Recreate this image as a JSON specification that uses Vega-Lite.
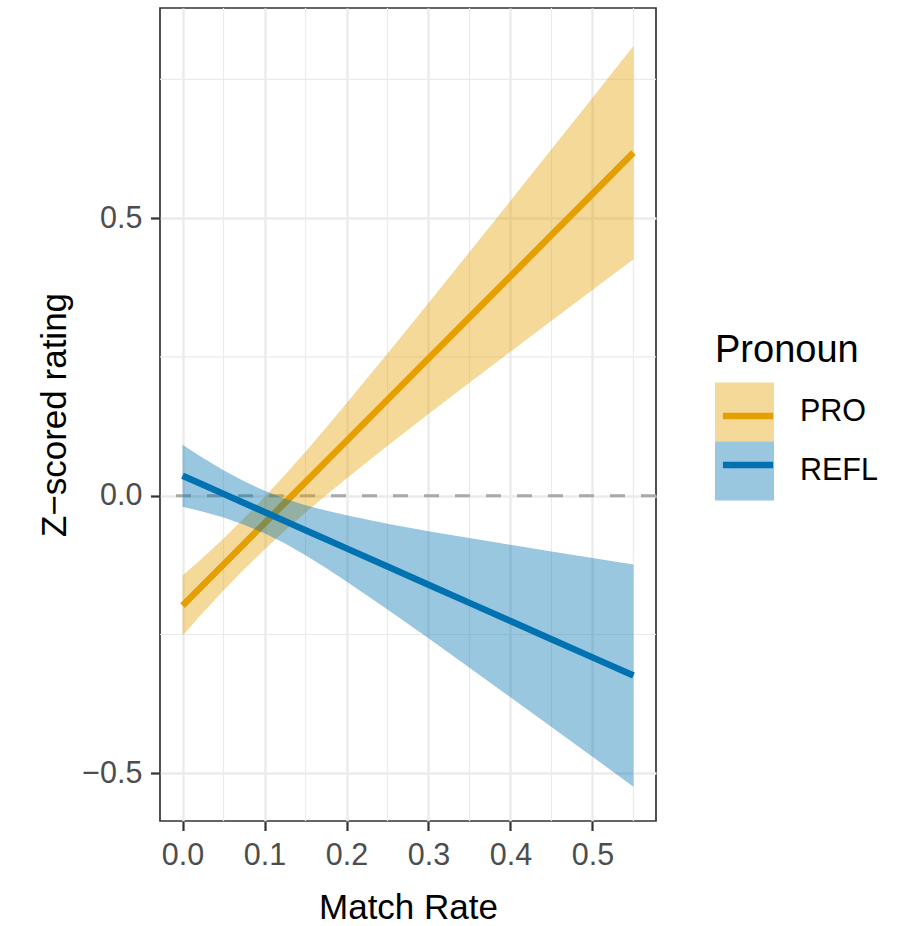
{
  "$schema": "https://vega.github.io/schema/vega-lite/v6.json",
  "width": 496,
  "height": 813,
  "autosize": {"type": "none"},
  "padding": {"left": 160, "top": 8, "right": 251, "bottom": 105},
  "background": "white",
  "config": {
    "font": "Liberation Sans",
    "view": {"stroke": "#333333", "strokeWidth": 1.7},
    "axis": {
      "labelFont": "Liberation Sans",
      "titleFont": "Liberation Sans",
      "labelFontSize": 30.5,
      "labelColor": "#4D4D4D",
      "titleFontSize": 35,
      "titleFontWeight": "normal",
      "titleColor": "#000000",
      "tickColor": "#333333",
      "tickSize": 9.5,
      "tickWidth": 2.2,
      "domain": false,
      "grid": true,
      "gridColor": "#EBEBEB",
      "gridWidth": 2.4
    },
    "legend": {
      "titleFont": "Liberation Sans",
      "labelFont": "Liberation Sans"
    }
  },
  "datasets": {
    "fits": [
      {"x": 0.000, "pronoun": "PRO", "fit": -0.1980, "lo": -0.2521, "hi": -0.1439},
      {"x": 0.025, "pronoun": "PRO", "fit": -0.1609, "lo": -0.2105, "hi": -0.1113},
      {"x": 0.050, "pronoun": "PRO", "fit": -0.1238, "lo": -0.1706, "hi": -0.0770},
      {"x": 0.075, "pronoun": "PRO", "fit": -0.0867, "lo": -0.1326, "hi": -0.0408},
      {"x": 0.100, "pronoun": "PRO", "fit": -0.0496, "lo": -0.0967, "hi": -0.0025},
      {"x": 0.125, "pronoun": "PRO", "fit": -0.0125, "lo": -0.0627, "hi": 0.0377},
      {"x": 0.150, "pronoun": "PRO", "fit": 0.0245, "lo": -0.0304, "hi": 0.0794},
      {"x": 0.175, "pronoun": "PRO", "fit": 0.0616, "lo": 0.0008, "hi": 0.1224},
      {"x": 0.200, "pronoun": "PRO", "fit": 0.0987, "lo": 0.0310, "hi": 0.1664},
      {"x": 0.250, "pronoun": "PRO", "fit": 0.1729, "lo": 0.0898, "hi": 0.2560},
      {"x": 0.300, "pronoun": "PRO", "fit": 0.2471, "lo": 0.1471, "hi": 0.3471},
      {"x": 0.350, "pronoun": "PRO", "fit": 0.3213, "lo": 0.2036, "hi": 0.4390},
      {"x": 0.400, "pronoun": "PRO", "fit": 0.3954, "lo": 0.2595, "hi": 0.5313},
      {"x": 0.450, "pronoun": "PRO", "fit": 0.4696, "lo": 0.3151, "hi": 0.6241},
      {"x": 0.500, "pronoun": "PRO", "fit": 0.5438, "lo": 0.3706, "hi": 0.7170},
      {"x": 0.550, "pronoun": "PRO", "fit": 0.6180, "lo": 0.4258, "hi": 0.8102},
      {"x": 0.000, "pronoun": "REFL", "fit": 0.0360, "lo": -0.0197, "hi": 0.0917},
      {"x": 0.025, "pronoun": "REFL", "fit": 0.0196, "lo": -0.0288, "hi": 0.0680},
      {"x": 0.050, "pronoun": "REFL", "fit": 0.0033, "lo": -0.0394, "hi": 0.0460},
      {"x": 0.075, "pronoun": "REFL", "fit": -0.0131, "lo": -0.0522, "hi": 0.0260},
      {"x": 0.100, "pronoun": "REFL", "fit": -0.0295, "lo": -0.0678, "hi": 0.0088},
      {"x": 0.125, "pronoun": "REFL", "fit": -0.0458, "lo": -0.0863, "hi": -0.0053},
      {"x": 0.150, "pronoun": "REFL", "fit": -0.0622, "lo": -0.1074, "hi": -0.0170},
      {"x": 0.175, "pronoun": "REFL", "fit": -0.0785, "lo": -0.1302, "hi": -0.0268},
      {"x": 0.200, "pronoun": "REFL", "fit": -0.0949, "lo": -0.1544, "hi": -0.0354},
      {"x": 0.250, "pronoun": "REFL", "fit": -0.1276, "lo": -0.2049, "hi": -0.0503},
      {"x": 0.300, "pronoun": "REFL", "fit": -0.1604, "lo": -0.2570, "hi": -0.0638},
      {"x": 0.350, "pronoun": "REFL", "fit": -0.1931, "lo": -0.3098, "hi": -0.0764},
      {"x": 0.400, "pronoun": "REFL", "fit": -0.2258, "lo": -0.3631, "hi": -0.0885},
      {"x": 0.450, "pronoun": "REFL", "fit": -0.2585, "lo": -0.4166, "hi": -0.1004},
      {"x": 0.500, "pronoun": "REFL", "fit": -0.2912, "lo": -0.4702, "hi": -0.1122},
      {"x": 0.550, "pronoun": "REFL", "fit": -0.3240, "lo": -0.5241, "hi": -0.1239}
    ]
  },
  "layer": [
    {
      "data": {"values": [{"mx": 0.05}, {"mx": 0.15}, {"mx": 0.25}, {"mx": 0.35}, {"mx": 0.45}, {"mx": 0.55}]},
      "mark": {"type": "rule", "color": "#EBEBEB", "strokeWidth": 1.2},
      "encoding": {
        "x": {"field": "mx", "type": "quantitative", "scale": {"domain": [-0.0275, 0.5775], "nice": false, "zero": false},
              "axis": {"title": "Match Rate", "values": [0, 0.1, 0.2, 0.3, 0.4, 0.5], "format": ".1f", "labelPadding": 10, "titlePadding": 19.5}}
      }
    },
    {
      "data": {"values": [{"my": -0.25}, {"my": 0.25}, {"my": 0.75}]},
      "mark": {"type": "rule", "color": "#EBEBEB", "strokeWidth": 1.2},
      "encoding": {
        "y": {"field": "my", "type": "quantitative", "scale": {"domain": [-0.586, 0.8786], "nice": false, "zero": false},
              "axis": {"title": "Z\u2212scored rating", "values": [-0.5, 0, 0.5], "format": ".1f", "labelPadding": 8.5, "titlePadding": 9}}
      }
    },
    {
      "data": {"values": [{"h": 0}]},
      "mark": {"type": "rule", "color": "#A9A9A9", "strokeWidth": 3, "strokeDash": [15, 16]},
      "encoding": {"y": {"field": "h", "type": "quantitative"}}
    },
    {
      "data": {"name": "fits"},
      "transform": [{"filter": "datum.pronoun === 'PRO'"}],
      "mark": {"type": "area", "fillOpacity": 0.4},
      "encoding": {
        "x": {"field": "x", "type": "quantitative"},
        "y": {"field": "lo", "type": "quantitative"},
        "y2": {"field": "hi"},
        "fill": {"field": "pronoun", "type": "nominal",
                 "scale": {"domain": ["PRO", "REFL"], "range": ["#E69F00", "#0072B2"]},
                 "legend": {"title": "Pronoun", "orient": "none", "legendX": 555, "legendY": 323.5,
                            "titleFontSize": 38, "titleFontWeight": "normal", "titleColor": "#000000", "titlePadding": 13,
                            "labelFontSize": 30.5, "labelColor": "#000000", "labelOffset": 26,
                            "symbolType": "square", "symbolSize": 3481, "symbolOpacity": 0.4, "symbolStrokeWidth": 0,
                            "rowPadding": 0, "zindex": 0}}
      }
    },
    {
      "data": {"name": "fits"},
      "transform": [{"filter": "datum.pronoun === 'PRO'"}],
      "mark": {"type": "line", "strokeWidth": 6.5, "strokeCap": "butt"},
      "encoding": {
        "x": {"field": "x", "type": "quantitative"},
        "y": {"field": "fit", "type": "quantitative"},
        "stroke": {"field": "pronoun", "type": "nominal",
                   "scale": {"range": ["#E69F00", "#0072B2"]},
                   "legend": {"title": null, "orient": "none", "legendX": 555, "legendY": 375,
                              "labelFontSize": 30.5, "labelExpr": "''", "labelOffset": 26,
                              "symbolType": "M-0.85,0H0.85", "symbolSize": 3481, "symbolStrokeWidth": 6.5,
                              "symbolFillColor": "transparent", "rowPadding": 0, "zindex": 1}}
      }
    },
    {
      "data": {"name": "fits"},
      "transform": [{"filter": "datum.pronoun === 'REFL'"}],
      "mark": {"type": "area", "fillOpacity": 0.4},
      "encoding": {
        "x": {"field": "x", "type": "quantitative"},
        "y": {"field": "lo", "type": "quantitative"},
        "y2": {"field": "hi"},
        "fill": {"field": "pronoun", "type": "nominal"}
      }
    },
    {
      "data": {"name": "fits"},
      "transform": [{"filter": "datum.pronoun === 'REFL'"}],
      "mark": {"type": "line", "strokeWidth": 6.5, "strokeCap": "butt"},
      "encoding": {
        "x": {"field": "x", "type": "quantitative"},
        "y": {"field": "fit", "type": "quantitative"},
        "stroke": {"field": "pronoun", "type": "nominal"}
      }
    }
  ]
}
